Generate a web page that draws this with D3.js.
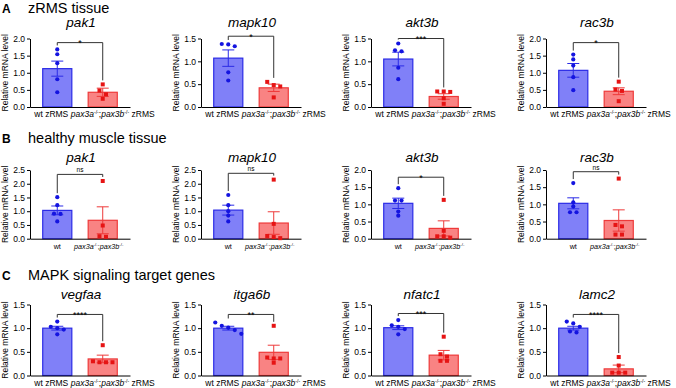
<!DOCTYPE html>
<html>
<head>
<meta charset="utf-8">
<title>Relative mRNA level bar charts</title>
<script src="https://d3js.org/d3.v7.min.js"></script>
<style>
  body { margin: 0; background: #fff; }
  svg { display: block; font-family: Arial, "Liberation Sans", sans-serif; }
  .axis path, .axis line { stroke: #000; stroke-width: 1; }
  .axis text { font-size: 8.5px; fill: #000; font-family: Arial, "Liberation Sans", sans-serif; }
</style>
</head>
<body>
<div id="graphic"></div>
<script>
// section headers
var sectionLetters = ["A", "B", "C"];
var sectionTitles = ["zRMS tissue", "healthy muscle tissue", "MAPK signaling target genes"];

// one entry per panel, row by row
var genes = ["pak1", "mapk10", "akt3b", "rac3b",
             "pak1", "mapk10", "akt3b", "rac3b",
             "vegfaa", "itga6b", "nfatc1", "lamc2"];
var yMax = [2, 1.5, 1.5, 2, 2.5, 2.5, 2, 2, 1.5, 1.5, 1.5, 1.5];

var wtMean = [1.12, 1.07, 1.05, 1.07, 1.03, 1.04, 1.03, 1.03, 1.0, 1.0, 1.01, 1.0];
var wtSem  = [0.22, 0.18, 0.15, 0.20, 0.16, 0.18, 0.15, 0.16, 0.04, 0.04, 0.04, 0.04];
var mutMean = [0.43, 0.42, 0.23, 0.46, 0.67, 0.57, 0.30, 0.53, 0.35, 0.49, 0.43, 0.14];
var mutSem  = [0.12, 0.08, 0.06, 0.10, 0.49, 0.41, 0.22, 0.31, 0.08, 0.15, 0.10, 0.08];

var wtPoints = [
  [1.68, 1.54, 1.28, 0.81, 0.43],
  [1.37, 1.38, 1.33, 0.76, 0.58],
  [1.39, 1.22, 1.24, 0.86, 0.61],
  [1.53, 1.39, 1.21, 0.87, 0.49],
  [1.51, 1.22, 0.91, 0.90, 0.63],
  [1.59, 1.22, 1.00, 0.84, 0.63],
  [1.47, 1.11, 1.11, 0.79, 0.67],
  [1.62, 1.06, 0.94, 0.77, 0.77],
  [1.14, 1.03, 1.00, 0.97, 0.87],
  [1.12, 1.05, 1.01, 0.96, 0.88],
  [1.17, 1.06, 1.03, 0.98, 0.87],
  [1.14, 1.10, 1.03, 0.93, 0.91]
];
var mutPoints = [
  [0.66, 0.48, 0.37, 0.24],
  [0.55, 0.48, 0.45, 0.21],
  [0.34, 0.33, 0.34, 0.19, 0.07],
  [0.74, 0.51, 0.47, 0.17],
  [2.10, 0.48, 0.09, 0.07],
  [2.15, 0.54, 0.06, 0.10, 0.02],
  [1.13, 0.23, 0.07, 0.07, 0.03],
  [1.75, 0.40, 0.36, 0.12, 0.12],
  [0.64, 0.30, 0.28, 0.28, 0.28],
  [1.05, 0.38, 0.36, 0.36, 0.27],
  [0.82, 0.45, 0.40, 0.31, 0.31],
  [0.39, 0.21, 0.06, 0.06, 0.06]
];

var sigText  = ["*", "*", "***", "*", "ns", "ns", "*", "ns", "****", "**", "***", "****"];
var sigLevel = [1.88, 1.55, 1.50, 1.88, 2.34, 2.38, 1.79, 1.95, 1.29, 1.29, 1.31, 1.29];

// layout
var width = 676, height = 388;
var colX = [30, 201, 371, 546];
var plotW = 100;
var rowTop = [38.5, 170, 304.5];
var rowBottom = [107, 238.7, 375.5];
var headerY = [12.5, 143, 280];
var titleY = [27, 162, 298.5];
var catFont = [8.5, 7.2, 8.5];

var blueFill = "#8080f8", blueLine = "#2b2be6", bluePt = "#1414e0";
var redFill = "#f98383", redLine = "#ee3a3a", redPt = "#e61414";

var svg = d3.select("#graphic").append("svg")
    .attr("width", width)
    .attr("height", height);

svg.append("rect").attr("width", width).attr("height", height).attr("fill", "#fff");

// headers
sectionLetters.forEach(function (l, r) {
    svg.append("text")
        .attr("x", 2).attr("y", headerY[r])
        .attr("font-weight", "bold").attr("font-size", 12)
        .text(l);
    svg.append("text")
        .attr("x", 28).attr("y", headerY[r])
        .attr("font-size", 14.5)
        .text(sectionTitles[r]);
});

// spread points that overlap vertically, like a column scatter
function spread(vals, y) {
    var pts = vals.map(function (v) { return {v: v, py: y(v)}; })
        .sort(function (a, b) { return a.py - b.py; });
    var groups = [], cur = [];
    pts.forEach(function (p) {
        if (cur.length && p.py - cur[cur.length - 1].py > 4) { groups.push(cur); cur = []; }
        cur.push(p);
    });
    if (cur.length) groups.push(cur);
    groups.forEach(function (g) {
        g.forEach(function (p, k) { p.dx = (k - (g.length - 1) / 2) * 6.5; });
    });
    return pts;
}

function mutLabel(t, withZ) {
    t.append("tspan").attr("font-style", "italic").text("pax3a");
    t.append("tspan").attr("font-size", "0.6em").attr("dy", -3).text("-/-");
    t.append("tspan").attr("dy", 3).text(";");
    t.append("tspan").attr("font-style", "italic").text("pax3b");
    t.append("tspan").attr("font-size", "0.6em").attr("dy", -3).text("-/-");
    t.append("tspan").attr("dy", 3).text(withZ ? " zRMS" : "");
}

genes.forEach(function (gene, i) {
    var row = Math.floor(i / 4), col = i % 4;
    var x0 = colX[col];
    var g = svg.append("g");

    var y = d3.scaleLinear()
        .domain([0, yMax[i]])
        .range([rowBottom[row], rowTop[row]]);
    var x = d3.scaleBand()
        .domain(["wt", "mut"])
        .range([x0, x0 + plotW])
        .paddingInner(0.36)
        .paddingOuter(0.28);
    var bw = x.bandwidth();

    var groups = [
        {k: "wt", mean: wtMean[i], sem: wtSem[i], pts: wtPoints[i], fill: blueFill, line: blueLine, pt: bluePt},
        {k: "mut", mean: mutMean[i], sem: mutSem[i], pts: mutPoints[i], fill: redFill, line: redLine, pt: redPt}
    ];

    // y axis
    g.append("g").attr("class", "axis")
        .attr("transform", "translate(" + x0 + ",0)")
        .call(d3.axisLeft(y)
            .tickValues(d3.range(0, yMax[i] + 0.01, 0.5))
            .tickFormat(d3.format(".1f"))
            .tickSize(3).tickSizeOuter(0).tickPadding(2));

    g.append("text")
        .attr("transform", "translate(" + (x0 - 22) + "," + ((rowTop[row] + rowBottom[row]) / 2) + ") rotate(-90)")
        .attr("text-anchor", "middle")
        .attr("font-size", 8.5)
        .text("Relative mRNA level");

    // bars
    g.selectAll(".bar").data(groups).enter().append("rect")
        .attr("class", "bar")
        .attr("x", function (d) { return x(d.k); })
        .attr("y", function (d) { return y(d.mean); })
        .attr("width", bw)
        .attr("height", function (d) { return y(0) - y(d.mean); })
        .attr("fill", function (d) { return d.fill; })
        .attr("stroke", function (d) { return d.line; })
        .attr("stroke-width", 1.2);

    // error bars (mean +/- SEM)
    groups.forEach(function (d) {
        var cx = x(d.k) + bw / 2;
        var lo = y(Math.max(0, d.mean - d.sem)), hi = y(d.mean + d.sem);
        var eb = g.append("g").attr("stroke", d.line).attr("stroke-width", 1);
        eb.append("line").attr("x1", cx).attr("x2", cx).attr("y1", lo).attr("y2", hi);
        eb.append("line").attr("x1", cx - 6).attr("x2", cx + 6).attr("y1", hi).attr("y2", hi);
        eb.append("line").attr("x1", cx - 6).attr("x2", cx + 6).attr("y1", lo).attr("y2", lo);
    });

    // x axis line
    g.append("g").attr("class", "axis")
        .attr("transform", "translate(0," + y(0) + ")")
        .call(d3.axisBottom(x).tickSize(0).tickSizeOuter(0).tickFormat(""));

    // points
    groups.forEach(function (d) {
        var cx = x(d.k) + bw / 2;
        var pts = spread(d.pts, y);
        if (d.k === "wt") {
            g.selectAll(null).data(pts).enter().append("circle")
                .attr("cx", function (p) { return cx + p.dx; })
                .attr("cy", function (p) { return p.py; })
                .attr("r", 2.1)
                .attr("fill", d.pt);
        } else {
            g.selectAll(null).data(pts).enter().append("rect")
                .attr("x", function (p) { return cx + p.dx - 2; })
                .attr("y", function (p) { return p.py - 2; })
                .attr("width", 4).attr("height", 4)
                .attr("fill", d.pt);
        }
    });

    // significance bracket
    var yb = y(sigLevel[i]);
    var c1 = x("wt") + bw / 2, c2 = x("mut") + bw / 2;
    var top1 = y(Math.max(d3.max(wtPoints[i]), wtMean[i] + wtSem[i])) - 4;
    var top2 = y(Math.max(d3.max(mutPoints[i]), mutMean[i] + mutSem[i])) - 4;
    g.append("path")
        .attr("d", "M" + c1 + "," + top1 + "V" + yb + "H" + c2 + "V" + top2)
        .attr("fill", "none").attr("stroke", "#333").attr("stroke-width", 1);
    var isNs = sigText[i] === "ns";
    g.append("text")
        .attr("x", (c1 + c2) / 2)
        .attr("y", isNs ? yb - 2 : yb + 3.5)
        .attr("text-anchor", "middle")
        .attr("font-size", isNs ? 6.5 : 9)
        .text(sigText[i]);

    // gene title
    g.append("text")
        .attr("x", x0 + 51).attr("y", titleY[row])
        .attr("text-anchor", "middle")
        .attr("font-style", "italic")
        .attr("font-size", 13.5)
        .text(gene);

    // category labels
    var withZ = row !== 1;
    var ly = y(0) + 10;
    g.append("text")
        .attr("x", c1 + (withZ ? -6 : 0)).attr("y", ly)
        .attr("text-anchor", "middle")
        .attr("font-size", catFont[row])
        .text(withZ ? "wt zRMS" : "wt");
    var ml = g.append("text")
        .attr("x", c2 + (withZ ? 10 : -4)).attr("y", ly)
        .attr("text-anchor", "middle")
        .attr("font-size", catFont[row]);
    mutLabel(ml, withZ);
});
</script>
</body>
</html>
